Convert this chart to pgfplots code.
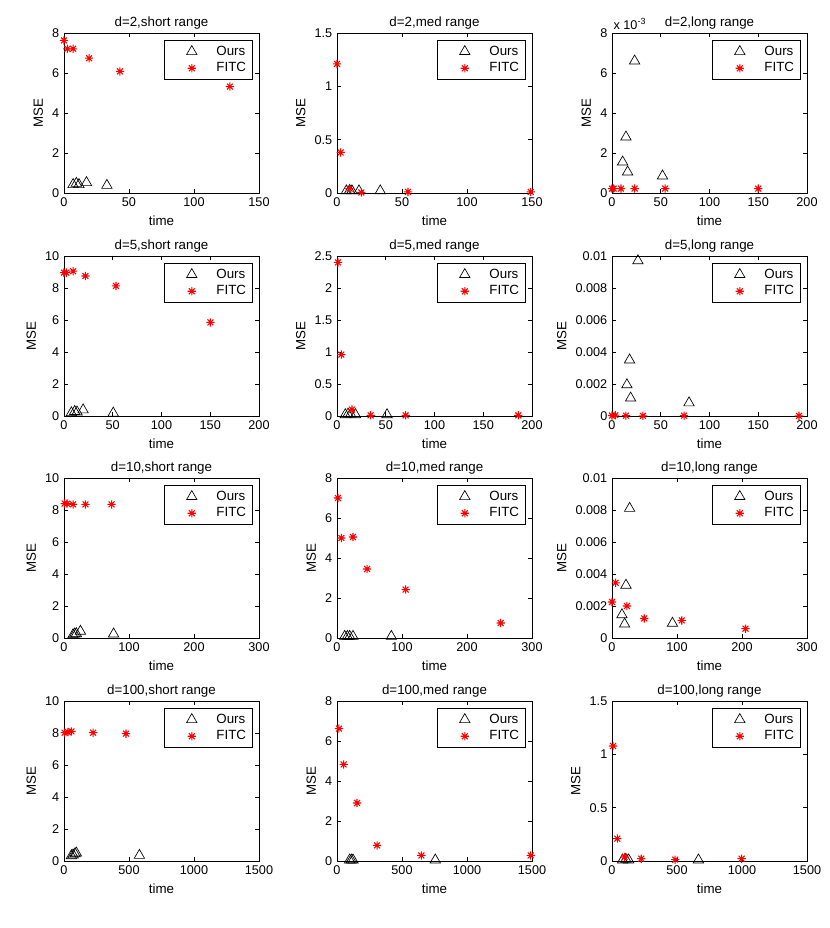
\documentclass[border=0pt]{standalone}
\usepackage{fontspec}
\setmainfont{Liberation Sans}
\usepackage{pgfplots}
\pgfplotsset{compat=1.18}

% matlab-like '*' marker: a plus and a cross
\pgfdeclareplotmark{mstar}{%
  \pgfpathmoveto{\pgfqpoint{-\pgfplotmarksize}{0pt}}\pgfpathlineto{\pgfqpoint{\pgfplotmarksize}{0pt}}%
  \pgfpathmoveto{\pgfqpoint{0pt}{-\pgfplotmarksize}}\pgfpathlineto{\pgfqpoint{0pt}{\pgfplotmarksize}}%
  \pgfpathmoveto{\pgfqpoint{-0.707\pgfplotmarksize}{-0.707\pgfplotmarksize}}\pgfpathlineto{\pgfqpoint{0.707\pgfplotmarksize}{0.707\pgfplotmarksize}}%
  \pgfpathmoveto{\pgfqpoint{-0.707\pgfplotmarksize}{0.707\pgfplotmarksize}}\pgfpathlineto{\pgfqpoint{0.707\pgfplotmarksize}{-0.707\pgfplotmarksize}}%
  \pgfusepathqstroke}

\pgfplotsset{
  panel/.style={
    width=146.25pt, height=120pt, scale only axis,
    anchor=south west, clip=false,
    xmin=0, ymin=0,
    axis line style={line width=0.6pt},
    every tick/.style={black, line width=0.5pt},
    major tick length=3pt, tick align=inside,
    font=\fontsize{10}{12}\selectfont,
    tick label style={font=\fontsize{9.5}{11}\selectfont},
    /pgf/number format/assume math mode=true,
    /pgf/number format/set thousands separator={},
    scaled x ticks=false, scaled y ticks=false,
    xlabel={time}, ylabel={MSE},
    ylabel style={yshift=0pt},
    title style={yshift=-7pt},
    legend style={at={(rel axis cs:0.97,0.955)}, anchor=north east,
      draw=black, line width=0.6pt, inner xsep=3pt, inner ysep=2pt,
      font=\fontsize{10}{12}\selectfont, row sep=0pt},
    legend cell align=left,
    legend image code/.code={\draw[mark repeat=2,mark phase=2,##1,draw=none] plot coordinates {(0cm,0cm) (0.62cm,0cm) (1.2cm,0cm)};},
  },
  ours/.style={draw=none, mark=triangle, mark size=4.5pt,
    mark options={draw=black, fill=none, solid, line width=0.5pt}},
  fitc/.style={draw=none, mark=mstar, mark size=3.1pt,
    mark options={draw=red, solid, line width=0.8pt}},
}

\begin{document}
\begin{tikzpicture}
\useasboundingbox (0,0) rectangle (622.5pt,696pt);

% ---------- row 1 ----------
\begin{axis}[panel, at={(48pt,551.25pt)}, title={d=2,short range},
  xmax=150, ymax=8, xtick={0,50,100,150}, ytick={0,2,4,6,8}]
\addplot[ours] coordinates {(7,0.42) (9.5,0.48) (11.5,0.42) (17.3,0.52) (33,0.38)};
\addplot[fitc] coordinates {(0,7.63) (2.6,7.21) (7,7.21) (19.3,6.74) (43,6.08) (127.6,5.32)};
\legend{Ours,FITC}
\end{axis}

\begin{axis}[panel, at={(252.75pt,551.25pt)}, title={d=2,med range},
  xmax=150, ymax=1.5, xtick={0,50,100,150}, ytick={0,0.5,1,1.5}]
\addplot[ours] coordinates {(7.2,0.02) (9.7,0.025) (11.5,0.02) (16.9,0.02) (33.3,0.02)};
\addplot[fitc] coordinates {(0,1.21) (2.8,0.38) (9.7,0.04) (18.7,0.005) (54.6,0.01) (149,0.01)};
\legend{Ours,FITC}
\end{axis}

\begin{axis}[panel, at={(459pt,551.25pt)}, title={d=2,long range},
  xmax=200, ymax=0.008, xtick={0,50,100,150,200}, ytick={0,0.002,0.004,0.006,0.008},
  scaled y ticks=base 10:3,
  ytick scale label code/.code={x 10\textsuperscript{#1}},
  every y tick scale label/.style={at={(rel axis cs:0,1)}, anchor=south west, inner sep=1pt, yshift=1pt}]
\addplot[ours] coordinates {(23.2,0.0066) (14.3,0.0028) (10.9,0.00155) (16,0.00105) (51.8,0.00085)};
\addplot[fitc] coordinates {(0,0.00022) (1.7,0.00022) (9.2,0.00022) (23.2,0.00022) (54.5,0.00022) (150,0.00022)};
\legend{Ours,FITC}
\end{axis}

% ---------- row 2 ----------
\begin{axis}[panel, at={(48pt,384pt)}, title={d=5,short range},
  xmax=200, ymax=10, xtick={0,50,100,150,200}, ytick={0,2,4,6,8,10}]
\addplot[ours] coordinates {(7.6,0.2) (11,0.28) (13.4,0.25) (19.6,0.38) (50.5,0.18)};
\addplot[fitc] coordinates {(0,8.96) (2.4,8.96) (9.3,9.05) (22,8.75) (53.3,8.13) (150.2,5.85)};
\legend{Ours,FITC}
\end{axis}

\begin{axis}[panel, at={(252.75pt,384pt)}, title={d=5,med range},
  xmax=200, ymax=2.5, xtick={0,50,100,150,200}, ytick={0,0.5,1,1.5,2,2.5}]
\addplot[ours] coordinates {(8.5,0.02) (11.3,0.03) (14,0.03) (19,0.02) (51.3,0.02)};
\addplot[fitc] coordinates {(1,2.4) (4.4,0.96) (15.4,0.1) (34.5,0.01) (70.4,0.01) (186,0.01)};
\legend{Ours,FITC}
\end{axis}

\begin{axis}[panel, at={(459pt,384pt)}, title={d=5,long range},
  xmax=200, ymax=0.01, xtick={0,50,100,150,200}, ytick={0,0.002,0.004,0.006,0.008,0.01},
  yticklabels={0,0.002,0.004,0.006,0.008,0.01}]
\addplot[ours] coordinates {(26.6,0.0097) (18,0.0035) (15.3,0.00195) (19.1,0.00112) (79,0.00082)};
\addplot[fitc] coordinates {(0,0.00003) (3.4,0.00005) (14.3,0.00002) (31.7,0.00001) (73.9,0.00002) (191.8,0.00001)};
\legend{Ours,FITC}
\end{axis}

% ---------- row 3 ----------
\begin{axis}[panel, at={(48pt,217.5pt)}, title={d=10,short range},
  xmax=300, ymax=10, xtick={0,100,200,300}, ytick={0,2,4,6,8,10}]
\addplot[ours] coordinates {(13.9,0.2) (16.5,0.25) (19,0.27) (25.3,0.42) (76.3,0.25)};
\addplot[fitc] coordinates {(1,8.4) (4.6,8.4) (13.9,8.35) (33,8.35) (73.2,8.35)};
\legend{Ours,FITC}
\end{axis}

\begin{axis}[panel, at={(252.75pt,217.5pt)}, title={d=10,med range},
  xmax=300, ymax=8, xtick={0,100,200,300}, ytick={0,2,4,6,8}]
\addplot[ours] coordinates {(11.8,0.08) (15.9,0.08) (19.5,0.08) (24.6,0.08) (83.6,0.08)};
\addplot[fitc] coordinates {(1.5,7.0) (6.7,5.0) (24.6,5.05) (46.2,3.45) (105.6,2.42) (251.8,0.75)};
\legend{Ours,FITC}
\end{axis}

\begin{axis}[panel, at={(459pt,217.5pt)}, title={d=10,long range},
  xmax=300, ymax=0.01, xtick={0,100,200,300}, ytick={0,0.002,0.004,0.006,0.008,0.01},
  yticklabels={0,0.002,0.004,0.006,0.008,0.01}]
\addplot[ours] coordinates {(27.1,0.0081) (21.5,0.0033) (15.3,0.00145) (19.4,0.00087) (93,0.00092)};
\addplot[fitc] coordinates {(0,0.00225) (5.6,0.00345) (23,0.002) (49.6,0.00122) (107.3,0.0011) (205.4,0.00058)};
\legend{Ours,FITC}
\end{axis}

% ---------- row 4 ----------
\begin{axis}[panel, at={(48pt,50.25pt)}, title={d=100,short range},
  xmax=1500, ymax=10, xtick={0,500,1000,1500}, ytick={0,2,4,6,8,10}]
\addplot[ours] coordinates {(57,0.33) (70,0.38) (85,0.45) (95,0.5) (580,0.35)};
\addplot[fitc] coordinates {(5,8.02) (31,8.06) (57,8.1) (224,8.02) (477,7.96)};
\legend{Ours,FITC}
\end{axis}

\begin{axis}[panel, at={(252.75pt,50.25pt)}, title={d=100,med range},
  xmax=1500, ymax=8, xtick={0,500,1000,1500}, ytick={0,2,4,6,8}]
\addplot[ours] coordinates {(97,0.05) (110,0.05) (123,0.05) (756,0.05)};
\addplot[fitc] coordinates {(15,6.62) (51,4.83) (154,2.9) (308,0.78) (649,0.28) (1490,0.28)};
\legend{Ours,FITC}
\end{axis}

\begin{axis}[panel, at={(459pt,50.25pt)}, title={d=100,long range},
  xmax=1500, ymax=1.5, xtick={0,500,1000,1500}, ytick={0,0.5,1,1.5}]
\addplot[ours] coordinates {(82,0.01) (107,0.015) (128,0.01) (665,0.01)};
\addplot[fitc] coordinates {(8,1.078) (41,0.21) (97,0.0375) (225,0.022) (486,0.0125) (997,0.022)};
\legend{Ours,FITC}
\end{axis}
\end{tikzpicture}
\end{document}
